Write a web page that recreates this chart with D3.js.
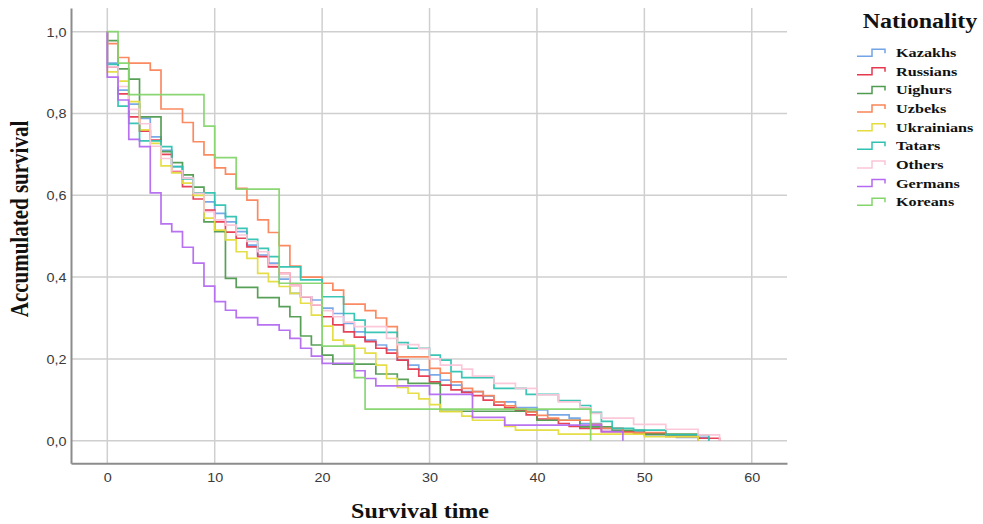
<!DOCTYPE html>
<html>
<head>
<meta charset="utf-8">
<script src="https://cdn.jsdelivr.net/npm/d3@7"></script>
<style>
  html, body { margin: 0; padding: 0; background: #fff; }
  svg { display: block; }
</style>
</head>
<body>
<svg id="chart" width="983" height="524"></svg>
<script>
// ---------- DATA ----------
const categories = ["Kazakhs", "Russians", "Uighurs", "Uzbeks", "Ukrainians", "Tatars", "Others", "Germans", "Koreans"];

// [time, survival after the step at that time]
const kazakhs = [[0,0.923],[1,0.857],[2,0.823],[3,0.788],[4,0.743],[5,0.71],[6,0.67],[7,0.642],[8,0.605],[9,0.584],[10,0.556],[11,0.535],[12,0.511],[13,0.478],[14,0.454],[15,0.434],[16,0.395],[17,0.36],[18,0.352],[19,0.344],[20,0.324],[21,0.311],[22,0.287],[23,0.266],[24,0.246],[25,0.234],[26,0.222],[27,0.197],[28,0.185],[29,0.173],[30,0.161],[31,0.148],[32,0.136],[33,0.12],[35,0.109],[36,0.095],[38,0.081],[40,0.075],[41,0.063],[43,0.055],[44,0.042],[46,0.03],[48,0.022],[50,0.014],[53,0.008],[56,0]];
const russians = [[0,0.914],[1,0.848],[2,0.792],[3,0.757],[4,0.735],[5,0.70],[6,0.658],[7,0.621],[8,0.591],[9,0.564],[10,0.535],[11,0.51],[12,0.495],[13,0.474],[14,0.45],[15,0.425],[16,0.409],[17,0.38],[18,0.352],[19,0.332],[20,0.303],[21,0.283],[22,0.266],[23,0.253],[24,0.242],[25,0.226],[26,0.214],[27,0.197],[28,0.175],[29,0.158],[30,0.144],[31,0.136],[32,0.124],[33,0.118],[34,0.11],[35,0.099],[36,0.087],[37,0.08],[38,0.073],[39,0.063],[40,0.053],[42,0.042],[43,0.035],[44,0.03],[46,0.022],[49,0.018],[52,0.012],[55,0.006],[57,0]];
const uighurs = [[0,0.978],[1,0.909],[2,0.884],[3,0.792],[5,0.707],[6,0.68],[7,0.65],[8,0.62],[9,0.535],[10,0.511],[11,0.397],[12,0.375],[14,0.35],[16,0.328],[17,0.303],[18,0.256],[19,0.234],[20,0.209],[21,0.187],[25,0.163],[27,0.15],[28,0.14],[31,0.072],[40,0.05],[44,0.034],[47,0.025],[50,0.016],[55,0]];
const uzbeks = [[0,0.971],[1,0.937],[2,0.923],[4,0.906],[5,0.811],[7,0.778],[8,0.731],[9,0.699],[10,0.667],[11,0.652],[12,0.617],[13,0.588],[14,0.54],[15,0.509],[16,0.477],[17,0.427],[18,0.40],[20,0.385],[21,0.368],[22,0.334],[24,0.318],[25,0.30],[26,0.279],[27,0.205],[30,0.177],[31,0.165],[32,0.144],[33,0.128],[34,0.12],[35,0.11],[36,0.095],[37,0.085],[38,0.077],[39,0.07],[40,0.062],[41,0.055],[42,0.05],[45,0.04],[46,0.03],[48,0.02],[52,0.01],[55,0]];
const ukrainians = [[0,0.902],[1,0.879],[2,0.829],[3,0.76],[4,0.727],[5,0.672],[6,0.655],[7,0.63],[8,0.6],[9,0.544],[10,0.515],[11,0.491],[12,0.462],[13,0.446],[14,0.409],[15,0.389],[16,0.377],[17,0.36],[18,0.336],[19,0.307],[20,0.28],[21,0.246],[22,0.234],[23,0.226],[24,0.214],[25,0.185],[26,0.152],[27,0.13],[28,0.116],[29,0.102],[30,0.088],[31,0.071],[33,0.06],[34,0.05],[37,0.035],[38,0.026],[42,0.016],[50,0.01],[55,0]];
const tatars = [[0,0.92],[1,0.818],[2,0.776],[3,0.733],[5,0.719],[6,0.67],[7,0.64],[8,0.606],[10,0.576],[11,0.548],[12,0.519],[13,0.492],[14,0.47],[15,0.45],[16,0.425],[18,0.393],[20,0.352],[22,0.311],[23,0.295],[24,0.265],[27,0.24],[28,0.226],[30,0.209],[31,0.197],[32,0.169],[33,0.154],[36,0.128],[39,0.113],[42,0.098],[44,0.086],[45,0.069],[46,0.047],[47,0.03],[49,0.026],[52,0.014],[56,0]];
const others = [[0,0.914],[1,0.866],[2,0.81],[3,0.775],[4,0.72],[5,0.69],[6,0.66],[7,0.642],[8,0.605],[9,0.56],[10,0.54],[11,0.527],[12,0.503],[13,0.487],[14,0.462],[15,0.43],[16,0.409],[17,0.38],[18,0.352],[19,0.332],[20,0.318],[21,0.303],[22,0.29],[23,0.279],[26,0.25],[27,0.235],[29,0.225],[30,0.2],[31,0.185],[33,0.175],[34,0.158],[36,0.14],[38,0.128],[40,0.112],[42,0.095],[44,0.08],[45,0.067],[46,0.055],[49,0.04],[52,0.028],[55,0.014],[57,0]];
const germans = [[0,0.889],[1,0.833],[2,0.737],[3,0.719],[4,0.606],[5,0.53],[6,0.511],[7,0.473],[8,0.434],[9,0.378],[10,0.34],[11,0.319],[12,0.301],[14,0.283],[16,0.27],[17,0.25],[18,0.226],[19,0.207],[20,0.189],[23,0.171],[24,0.152],[25,0.134],[30,0.113],[34,0.057],[37,0.038],[46,0.022],[48,0]];
const koreans = [[1,0.923],[2,0.846],[9,0.769],[10,0.692],[12,0.615],[16,0.385],[20,0.231],[23,0.154],[24,0.077],[45,0]];

const seriesValues = [kazakhs, russians, uighurs, uzbeks, ukrainians, tatars, others, germans, koreans];
const xTicks = [0, 10, 20, 30, 40, 50, 60];
const yTicks = [0, 0.2, 0.4, 0.6, 0.8, 1.0];
const legendTitle = "Nationality";
const xTitle = "Survival time";
const yTitle = "Accumulated survival";

// ---------- STYLE ----------
const colors = ["#72a4e6", "#e63950", "#4f9b4f", "#fa8458", "#e4dc3c", "#2fc2b0", "#fbc5d8", "#b46af0", "#84d56c"];
const serif = "'Liberation Serif', 'Times New Roman', serif";
const sans = "'Liberation Sans', Arial, sans-serif";
const stretch = 1.2;

// ---------- CHART ----------
const svg = d3.select("#chart");
const x = d3.scaleLinear().domain([-3.38, 63.28]).range([71, 787]);
const y = d3.scaleLinear().domain([-0.0553, 1.058]).range([463.3, 8]);

const grid = svg.append("g");
grid.selectAll("line.v").data(xTicks).join("line")
  .attr("x1", d => x(d)).attr("x2", d => x(d))
  .attr("y1", y.range()[1]).attr("y2", y.range()[0])
  .attr("stroke", "#cfcfcf").attr("stroke-width", 1.5);
grid.selectAll("line.h").data(yTicks).join("line")
  .attr("x1", x.range()[0]).attr("x2", x.range()[1])
  .attr("y1", d => y(d)).attr("y2", d => y(d))
  .attr("stroke", "#cfcfcf").attr("stroke-width", 1.5);

// axes
const fmt = d => d3.format(".1f")(d).replace(".", ",");
const yAxis = svg.append("g").attr("transform", `translate(${x.range()[0]},0)`)
  .call(d3.axisLeft(y).tickValues(yTicks).tickFormat(fmt).tickSize(0).tickPadding(0));
const xAxis = svg.append("g").attr("transform", `translate(0,${y.range()[0]})`)
  .call(d3.axisBottom(x).tickValues(xTicks).tickFormat(d3.format("d")).tickSize(0).tickPadding(0));
[yAxis, xAxis].forEach(g => {
  g.select(".domain").attr("stroke", "#8c8c8c").attr("stroke-width", 2);
  g.selectAll("text").attr("font-family", sans).attr("font-size", 12).attr("fill", "#3a3a3a");
});
yAxis.selectAll(".tick text").attr("x", null).attr("dy", "0.36em")
  .attr("transform", `translate(-4.5,0) scale(${stretch},1)`);
xAxis.selectAll(".tick text").attr("y", null).attr("dy", "0")
  .attr("transform", `translate(0,18.5) scale(${stretch},1)`);

// curves
const line = d3.line().x(d => x(d[0])).y(d => y(d[1])).curve(d3.curveStepAfter);
const curves = svg.append("g");
seriesValues.forEach((vals, i) => {
  const pts = [[0, 1]].concat(vals);
  curves.append("path").datum(pts)
    .attr("d", line)
    .attr("fill", "none")
    .attr("stroke", colors[i])
    .attr("stroke-width", 1.7)
    .attr("stroke-opacity", 0.95);
});

// axis titles
svg.append("text").text(xTitle)
  .attr("transform", `translate(420,518) scale(${stretch},1)`)
  .attr("text-anchor", "middle").attr("font-family", serif)
  .attr("font-weight", "bold").attr("font-size", 20).attr("fill", "#111");
svg.append("text").text(yTitle)
  .attr("transform", `translate(28,219) scale(${stretch},1) rotate(-90)`)
  .attr("text-anchor", "middle").attr("font-family", serif)
  .attr("font-weight", "bold").attr("font-size", 21).attr("fill", "#111");

// legend
const legend = svg.append("g");
legend.append("text").text(legendTitle)
  .attr("transform", `translate(920,28) scale(${stretch},1)`)
  .attr("text-anchor", "middle").attr("font-family", serif)
  .attr("font-weight", "bold").attr("font-size", 20).attr("fill", "#111");
const rowY = d3.scaleLinear().domain([0, categories.length - 1]).range([52.7, 201.7]);
categories.forEach((c, i) => {
  const cy = rowY(i);
  legend.append("path")
    .attr("d", `M857,${cy + 3.5}H872V${cy - 3.5}H885V${cy + 0.5}`)
    .attr("fill", "none").attr("stroke", colors[i]).attr("stroke-width", 1.5);
  legend.append("text").text(c)
    .attr("transform", `translate(896,${cy + 4.5}) scale(${stretch},1)`)
    .attr("font-family", serif).attr("font-weight", "bold")
    .attr("font-size", 13.5).attr("fill", "#111");
});
</script>
</body>
</html>
